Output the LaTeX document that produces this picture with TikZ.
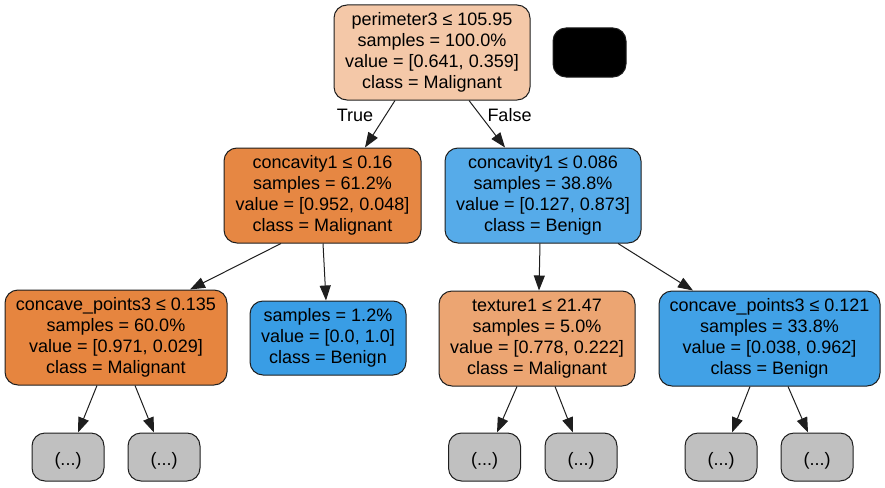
\documentclass[tikz,border=0pt]{standalone}
\usepackage{fontspec}
\setmainfont{Liberation Sans}
\usetikzlibrary{arrows.meta, positioning}
\definecolor{RootFill}{RGB}{244,200,168}
\definecolor{OrangeDeep}{RGB}{230,135,67}
\definecolor{OrangeFull}{RGB}{230,133,63}
\definecolor{OrangeMid}{RGB}{236,165,114}
\definecolor{BlueMid}{RGB}{86,171,233}
\definecolor{BlueFull}{RGB}{57,157,229}
\definecolor{BlueDeep}{RGB}{65,161,230}
\definecolor{HiddenFill}{RGB}{192,192,192}
\definecolor{EdgeLine}{RGB}{30,30,30}

\begin{document}
\begin{tikzpicture}[
    x=1pt, y=-1pt,
    box/.style={draw=EdgeLine, line width=1pt, rounded corners=13pt,
        align=center, inner sep=0pt, font=\fontsize{18}{21}\selectfont,
        execute at begin node={\rule{0pt}{20pt}}},
    splitnode/.style={box, minimum width=196pt, minimum height=95pt},
    leafnode/.style={box, minimum width=156pt, minimum height=74pt},
    hidenode/.style={box, fill=HiddenFill, minimum width=72pt, minimum height=48pt},
    arr/.style={-{Triangle[length=15pt, width=11pt]}, line width=1pt, EdgeLine},
    edgelbl/.style={font=\fontsize{18}{21}\selectfont}
]
\useasboundingbox (0,0) rectangle (885,487);

% ===================================================================
% ROOT
% ===================================================================
\node[splitnode, fill=RootFill] (root) at (432,52.5)
    {perimeter3 ≤ 105.95\\samples = 100.0\%\\value = [0.641, 0.359]\\class = Malignant};
\node[box, fill=black, minimum width=73pt, minimum height=49pt] (blank) at (589.5,52.5) {};

% ===================================================================
% FIRST SPLIT
% ===================================================================
\node[splitnode, minimum width=197pt, fill=OrangeDeep] (concL) at (322.5,195.5)
    {concavity1 ≤ 0.16\\samples = 61.2\%\\value = [0.952, 0.048]\\class = Malignant};
\node[splitnode, fill=BlueMid] (concR) at (543,195.5)
    {concavity1 ≤ 0.086\\samples = 38.8\%\\value = [0.127, 0.873]\\class = Benign};

\draw[arr] ([xshift=-37pt]root.south) -- ([xshift=42.5pt]concL.north);
\draw[arr] ([xshift=37pt]root.south) -- ([xshift=-38pt]concR.north);
\node[edgelbl] (lblTrue) at (355,115) {True};
\node[edgelbl] (lblFalse) at (509.5,115) {False};

% ===================================================================
% SECOND SPLIT
% ===================================================================
\node[splitnode, minimum width=222pt, fill=OrangeFull] (ptsL) at (116,337.5)
    {concave\_points3 ≤ 0.135\\samples = 60.0\%\\value = [0.971, 0.029]\\class = Malignant};
\node[leafnode, fill=BlueFull] (leafL) at (328,338)
    {samples = 1.2\%\\value = [0.0, 1.0]\\class = Benign};
\node[splitnode, fill=OrangeMid] (texR) at (537,338.5)
    {texture1 ≤ 21.47\\samples = 5.0\%\\value = [0.778, 0.222]\\class = Malignant};
\node[splitnode, minimum width=221pt, fill=BlueDeep] (ptsR) at (769.5,338.5)
    {concave\_points3 ≤ 0.121\\samples = 33.8\%\\value = [0.038, 0.962]\\class = Benign};

\draw[arr] ([xshift=-41.5pt]concL.south) -- ([xshift=74pt]ptsL.north);
\draw[arr] ([xshift=0.5pt]concL.south) -- ([xshift=-2pt]leafL.north);
\draw[arr] ([xshift=-3pt]concR.south) -- ([xshift=2pt]texR.north);
\draw[arr] ([xshift=75pt]concR.south) -- ([xshift=-76.5pt]ptsR.north);

% ===================================================================
% TRUNCATED SUBTREES
% ===================================================================
\foreach \name/\x in {hidA/68, hidB/164, hidC/484.5, hidD/581, hidE/721, hidF/817} {
    \node[hidenode] (\name) at (\x,457) {(...)};
}

\draw[arr] ([xshift=-19pt]ptsL.south) -- ([xshift=10pt]hidA.north);
\draw[arr] ([xshift=19pt]ptsL.south) -- ([xshift=-10pt]hidB.north);
\draw[arr] ([xshift=-20pt]texR.south) -- ([xshift=12.5pt]hidC.north);
\draw[arr] ([xshift=18pt]texR.south) -- ([xshift=-8pt]hidD.north);
\draw[arr] ([xshift=-19.5pt]ptsR.south) -- ([xshift=11pt]hidE.north);
\draw[arr] ([xshift=18.5pt]ptsR.south) -- ([xshift=-9pt]hidF.north);

\end{tikzpicture}
\end{document}
